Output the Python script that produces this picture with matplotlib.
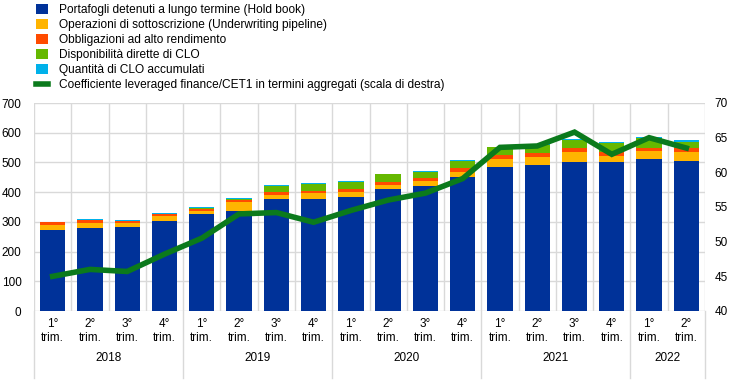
import matplotlib
matplotlib.use("Agg")
import matplotlib.pyplot as plt
from matplotlib.patches import Patch
from matplotlib.lines import Line2D
from matplotlib import font_manager
import matplotlib.transforms as mtransforms

names = {f.name for f in font_manager.fontManager.ttflist}
main_font = ['Liberation Sans', 'DejaVu Sans']
narrow_font = ['Liberation Sans Narrow', 'Liberation Sans', 'DejaVu Sans'] if 'Liberation Sans Narrow' in names else main_font
plt.rcParams['font.family'] = main_font

quarters = ["1°\ntrim.", "2°\ntrim.", "3°\ntrim.", "4°\ntrim."] * 4 + ["1°\ntrim.", "2°\ntrim."]
years = ["2018", "2019", "2020", "2021", "2022"]
year_counts = [4, 4, 4, 4, 2]

hold_book = [272, 278, 284, 304, 328, 338, 376, 377, 385, 411, 422, 451, 485, 490, 503, 503, 510, 506]
underwriting = [18, 18, 12, 17, 10, 29, 16, 19, 17, 13, 15, 16, 27, 28, 32, 20, 27, 29]
high_yield = [8, 9, 8, 4, 6, 7, 9, 9, 10, 9, 12, 13, 12, 13, 13, 11, 13, 13]
clo_direct = [0, 0, 0, 0, 2, 2, 21, 24, 21, 27, 20, 24, 27, 28, 28, 32, 31, 22]
clo_warehouse = [3, 5, 2, 6, 5, 4, 3, 3, 6, 2, 2, 3, 2, 3, 4, 3, 5, 7]
lf_cet1 = [45.0, 46.0, 45.7, 48.2, 50.5, 54.0, 54.2, 52.8, 54.5, 56.0, 57.0, 59.1, 63.6, 63.8, 65.8, 62.6, 65.0, 63.5]

series = [hold_book, underwriting, high_yield, clo_direct, clo_warehouse]
colors = ["#003299", "#ffb400", "#ff4b00", "#65b800", "#00b1ea"]
labels = ["Portafogli detenuti a lungo termine (Hold book)",
          "Operazioni di sottoscrizione (Underwriting pipeline)",
          "Obbligazioni ad alto rendimento",
          "Disponibilità dirette di CLO",
          "Quantità di CLO accumulati",
          "Coefficiente leveraged finance/CET1 in termini aggregati (scala di destra)"]
line_color = "#0b7a1c"

fig = plt.figure(figsize=(7.44, 3.81), dpi=100)
ax = fig.add_axes([34/744, 1-311/381, (705-34)/744, (311-103)/381])
ax2 = ax.twinx()

x = list(range(len(hold_book)))
bottom = [0]*len(x)
for s, c in zip(series, colors):
    ax.bar(x, s, width=0.68, bottom=bottom, color=c, zorder=3, linewidth=0)
    bottom = [b+v for b, v in zip(bottom, s)]

ax2.plot(x, lf_cet1, color=line_color, lw=4, zorder=5, solid_joinstyle='miter')

ax.set_xlim(-0.5, len(x)-0.5)
ax.set_ylim(0, 700)
ax2.set_ylim(40, 70)
ax.set_yticks(range(0, 701, 100))
ax2.set_yticks(range(40, 71, 5))

ax2.patch.set_visible(False)

for sp in list(ax.spines.values()) + list(ax2.spines.values()):
    sp.set_visible(False)

grid_c = "#d9d9d9"
for v in range(0, 701, 100):
    ax.axhline(v, color=grid_c, lw=1, zorder=1)
for b in [i-0.5 for i in range(len(x)+1)]:
    ax.axvline(b, color=grid_c, lw=1, zorder=1)

ax.tick_params(axis='y', length=0, labelsize=8.5, pad=9)
ax2.tick_params(axis='y', length=0, labelsize=8.5, pad=7)
for lab in ax.get_yticklabels() + ax2.get_yticklabels():
    lab.set_family(narrow_font)

ax.set_xticks(x)
ax.set_xticklabels(quarters, fontsize=8.5, family=narrow_font, linespacing=1.25)
ax.tick_params(axis='x', length=0, pad=5)

trans = mtransforms.blended_transform_factory(ax.transData, ax.transAxes)
start = 0
bounds = [-0.5]
for yr, n in zip(years, year_counts):
    center = start + (n-1)/2
    ax.text(center, -0.225, yr, transform=trans, ha='center', va='center', fontsize=8.5, family=narrow_font)
    start += n
    bounds.append(start-0.5)
for b in bounds:
    ax.plot([b, b], [0, -0.32], transform=trans, color=grid_c, lw=1, clip_on=False)

handles = [Patch(facecolor=c, edgecolor='none') for c in colors] + [Line2D([0], [0], color=line_color, lw=4)]
fig.legend(handles, labels, loc='upper left', bbox_to_anchor=(29/744, 1.0 + 3/381), frameon=False,
           fontsize=8.6, handlelength=1.0, handleheight=0.85, handletextpad=0.9, labelspacing=0.25,
           borderaxespad=0.2)

fig.savefig("out.png", dpi=100)
